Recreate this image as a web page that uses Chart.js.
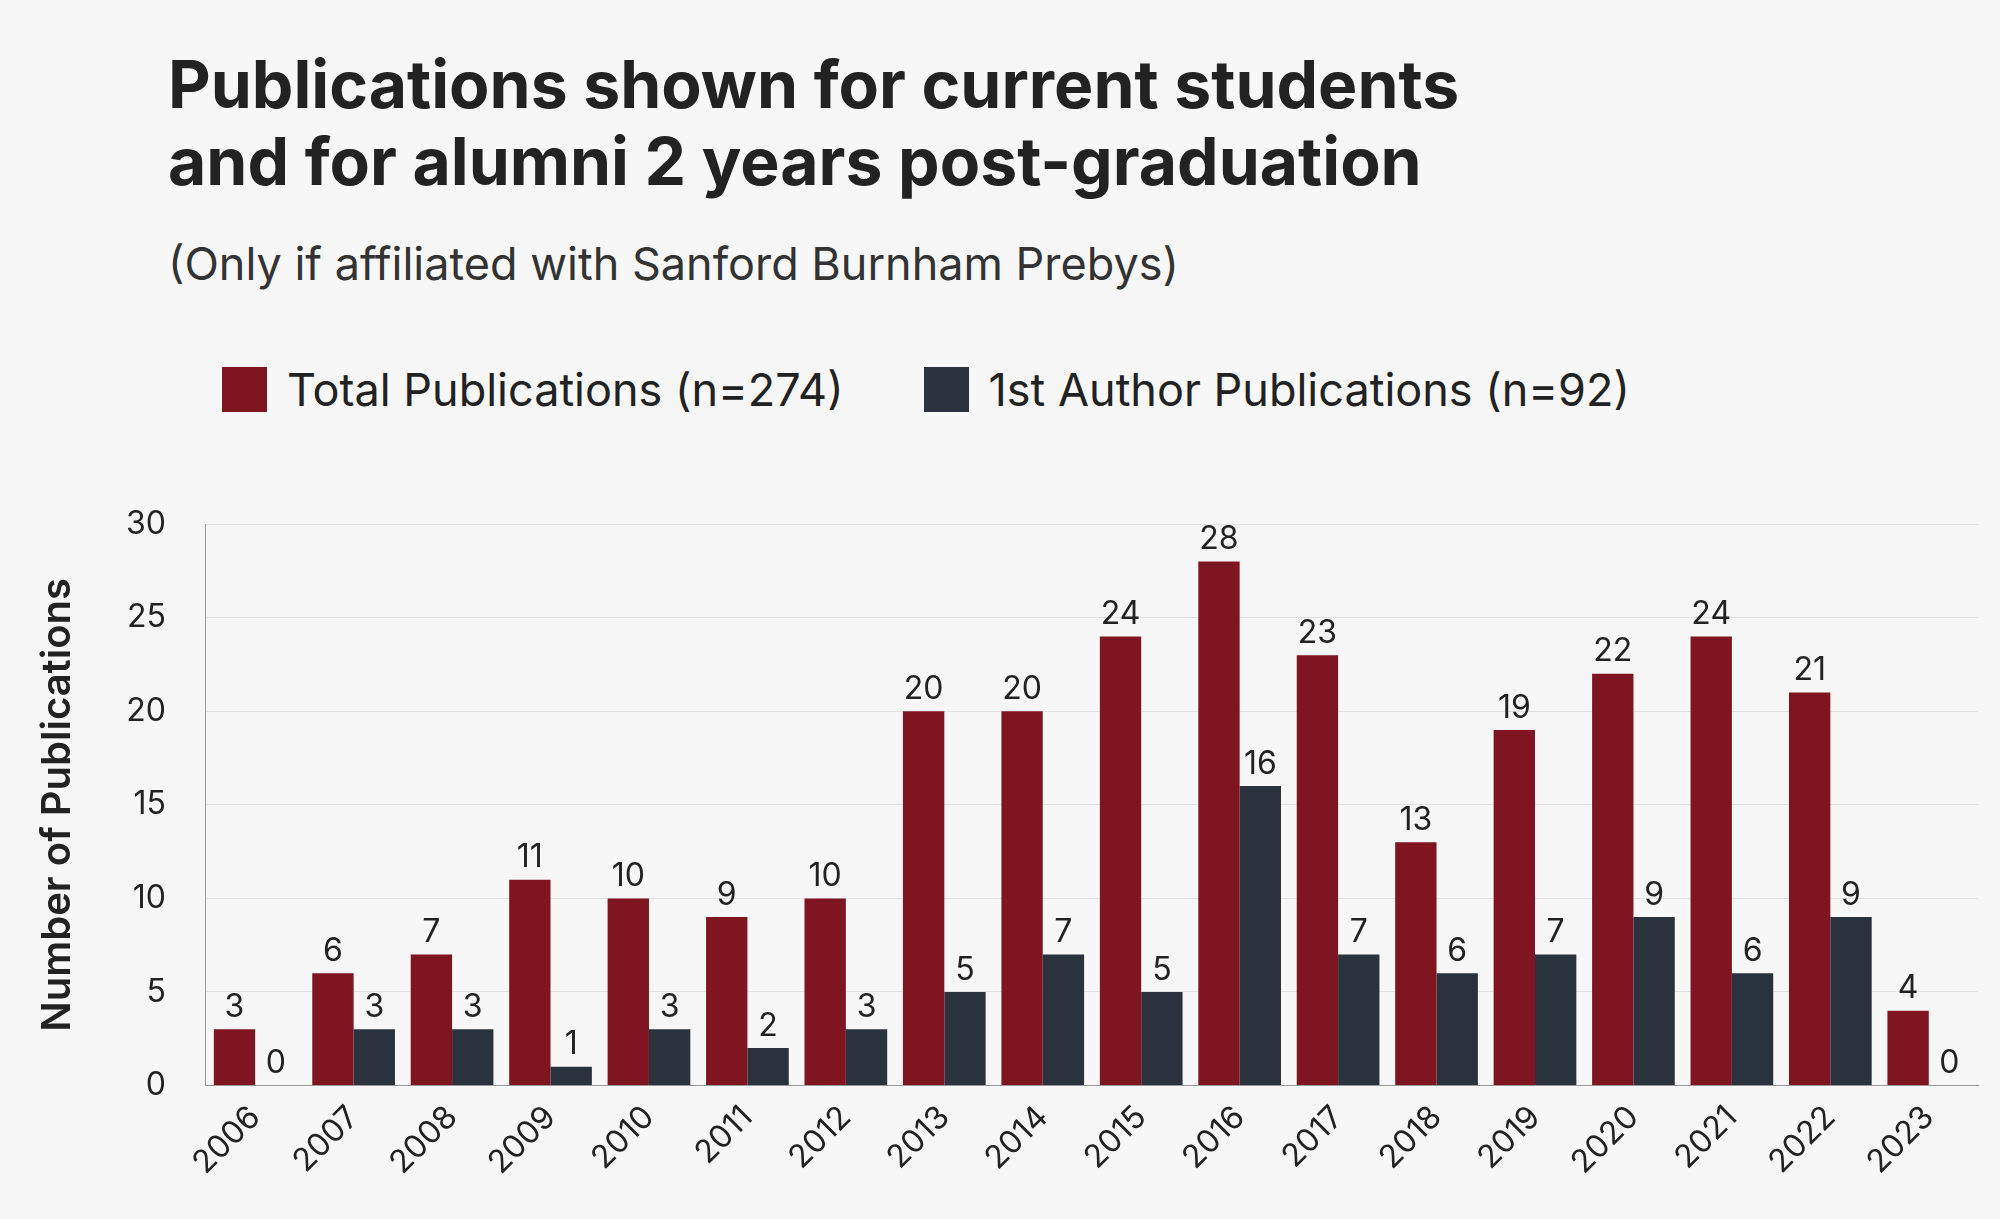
<!DOCTYPE html>
<html>
<head>
<meta charset="utf-8">
<script src="https://cdn.jsdelivr.net/npm/chart.js@4"></script>
<style>
  body { margin: 0; background: #f7f7f7; font-family: 'Inter', 'Noto Sans', sans-serif; color: #222; }
  .wrap { position: relative; width: 2000px; height: 1219px; }
  h1 { position: absolute; left: 168px; top: 46px; margin: 0; font-size: 66px; line-height: 77px; font-weight: 700; letter-spacing: 0px; }
  .sub { position: absolute; left: 168px; top: 236px; font-size: 45px; color: #333; }
  .legend { position: absolute; left: 222px; top: 362px; font-size: 45px; display: flex; align-items: center; color: #222; }
  .legend span.box { display: inline-block; width: 45px; height: 45px; margin-right: 20px; }
  .legend .item { display: flex; align-items: center; margin-right: 80px; }
  #chartBox { position: absolute; left: 0; top: 465px; width: 2000px; height: 740px; }
</style>
</head>
<body>
<div class="wrap">
  <h1>Publications shown for current students<br>and for alumni 2 years post-graduation</h1>
  <div class="sub">(Only if affiliated with Sanford Burnham Prebys)</div>
  <div class="legend">
    <div class="item"><span class="box" style="background:#7f1520"></span>Total Publications (n=274)</div>
    <div class="item"><span class="box" style="background:#2a333d"></span>1st Author Publications (n=92)</div>
  </div>
  <div id="chartBox"><canvas id="chart"></canvas></div>
</div>
<script>
// --- DATA --- //
const years = ['2006', '2007', '2008', '2009', '2010', '2011', '2012', '2013', '2014', '2015', '2016', '2017', '2018', '2019', '2020', '2021', '2022', '2023']
const totalPubs = [3, 6, 7, 11, 10, 9, 10, 20, 20, 24, 28, 23, 13, 19, 22, 24, 21, 4]
const firstAuthorPubs = [0, 3, 3, 1, 3, 2, 3, 5, 7, 5, 16, 7, 6, 7, 9, 6, 9, 0]

const fontFamily = "'Inter', 'Noto Sans', sans-serif"

// value labels above each bar
const barLabels = {
  id: 'barLabels',
  afterDatasetsDraw: chart => {
    const ctx = chart.ctx
    ctx.save()
    ctx.font = `32px ${fontFamily}`
    ctx.fillStyle = '#222'
    ctx.textAlign = 'center'
    ctx.textBaseline = 'bottom'
    chart.data.datasets.forEach((ds, i) => {
      chart.getDatasetMeta(i).data.forEach((bar, j) => {
        ctx.fillText(ds.data[j], bar.x, bar.y - 6)
      })
    })
    ctx.restore()
  }
}

const chart = new Chart(document.getElementById('chart'), {
  type: 'bar',
  data: {
    labels: years,
    datasets: [
      { label: 'Total Publications (n=274)', data: totalPubs, backgroundColor: '#7f1520' },
      { label: '1st Author Publications (n=92)', data: firstAuthorPubs, backgroundColor: '#2a333d' }
    ]
  },
  options: {
    responsive: true,
    maintainAspectRatio: false,
    animation: false,
    categoryPercentage: 0.84,
    barPercentage: 1,
    layout: { padding: { left: 30, right: 22, top: 25, bottom: 20 } },
    scales: {
      x: {
        grid: { display: false, drawTicks: true, tickLength: 10 },
        border: { color: '#999' },
        ticks: { color: '#222', font: { family: fontFamily, size: 32 }, maxRotation: 45, minRotation: 45 }
      },
      y: {
        min: 0,
        max: 30,
        ticks: { stepSize: 5, color: '#222', font: { family: fontFamily, size: 32 }, padding: 40 },
        grid: { color: '#e2e2e2', drawTicks: false },
        border: { color: '#999' },
        title: { display: true, text: 'Number of Publications', color: '#222', font: { family: fontFamily, size: 40, weight: '600' } }
      }
    },
    plugins: { legend: { display: false }, tooltip: { enabled: false } }
  },
  plugins: [barLabels]
})
</script>
</body>
</html>
